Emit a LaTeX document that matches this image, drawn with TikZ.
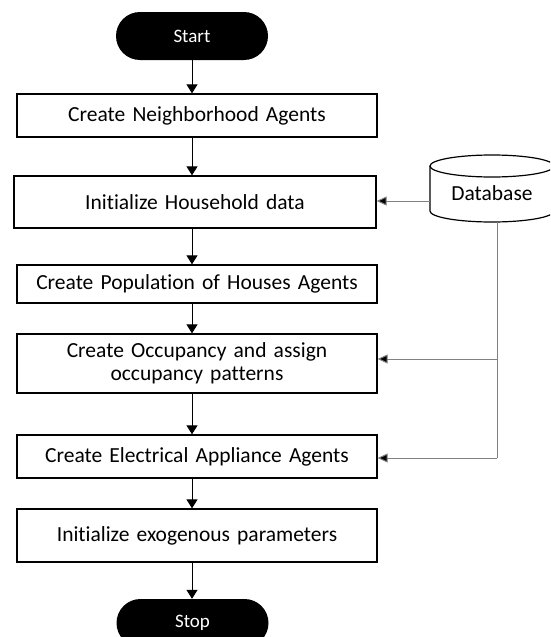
\documentclass[tikz,border=0pt]{standalone}
\usepackage{fontspec}
\setmainfont[RawFeature={-liga}]{Carlito}
\usetikzlibrary{arrows.meta,shapes.misc}

\tikzset{
  stepbox/.style={draw=black, line width=1.3pt, fill=white, inner sep=0pt,
    text width=340pt, align=center, font=\fontsize{21.5}{23.5}\selectfont},
  terminal/.style={rounded rectangle, fill=black, text=white, inner sep=0pt,
    minimum width=152pt, minimum height=48pt, font=\fontsize{19}{21}\selectfont},
  flow/.style={line width=1pt, -{Triangle[width=11pt,length=9pt]}},
  feed/.style={line width=1pt, draw=black!50, -{Triangle[width=9pt,length=10pt,fill=black]}},
  dbtext/.style={font=\fontsize{21.5}{24}\selectfont, inner sep=0pt}
}

\begin{document}
\begin{tikzpicture}[x=1pt,y=-1pt]
  \useasboundingbox (0,0) rectangle (550,637);
  \clip (0,0) rectangle (550,637);

  % terminals
  \node[terminal] (start) at (192,36) {Start};
  \node[terminal] (stop)  at (192.5,623) {\raisebox{3pt}{Stop}};

  % process steps
  \node[stepbox, minimum width=360pt, minimum height=43pt] (b1) at (197,115.5) {Create Neighborhood Agents};
  \node[stepbox, minimum width=362pt, minimum height=52pt] (b2) at (195,202) {Initialize Household data};
  \node[stepbox, minimum width=360pt, minimum height=38pt] (b3) at (197,284) {Create Population of Houses Agents};
  \node[stepbox, minimum width=360pt, minimum height=59pt] (b4) at (197,363.5) {Create Occupancy and assign\\occupancy patterns};
  \node[stepbox, minimum width=360pt, minimum height=43pt] (b5) at (197,456.5) {Create Electrical Appliance Agents};
  \node[stepbox, minimum width=360pt, minimum height=53pt] (b6) at (197,535.5) {Initialize exogenous parameters};

  % database cylinder
  \draw[line width=1.2pt, fill=white]
    (430,166) -- (430,211) arc[start angle=180, end angle=360, x radius=62pt, y radius=11pt]
    -- (554,166);
  \draw[line width=1.2pt] (492,166) ellipse[x radius=62pt, y radius=11pt];
  \node[dbtext] (db) at (492,193) {Database};
  \coordinate (dbleft) at (430,201);
  \coordinate (dbbottom) at (497,222);
  \coordinate (j4) at (497,359);
  \coordinate (j5) at (497,458);

  % main sequence
  \draw[flow] (start.south) -- (start.south |- b1.north);
  \draw[flow] (start.south |- b1.south) -- (start.south |- b2.north);
  \draw[flow] (start.south |- b2.south) -- (start.south |- b3.north);
  \draw[flow] (start.south |- b3.south) -- (start.south |- b4.north);
  \draw[flow] (start.south |- b4.south) -- (start.south |- b5.north);
  \draw[flow] (start.south |- b5.south) -- (start.south |- b6.north);
  \draw[flow] (start.south |- b6.south) -- (stop.north -| start.south);

  % data feeds
  \draw[feed] (dbleft) -- (dbleft -| b2.east);
  \draw[line width=1pt, draw=black!50] (dbbottom) -- (j5);
  \draw[feed] (j4) -- (j4 -| b4.east);
  \draw[feed] (j5) -- (j5 -| b5.east);
\end{tikzpicture}
\end{document}
